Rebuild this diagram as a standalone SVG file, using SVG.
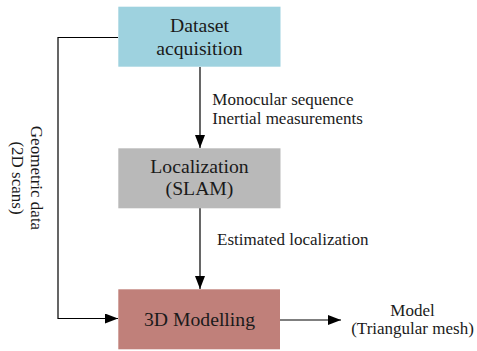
<svg xmlns="http://www.w3.org/2000/svg" width="477" height="351" viewBox="0 0 477 351">
<style>
.box-text{font-size:19.7px;fill:#1a1a1a;text-anchor:middle}
.lbl{font-size:17px;fill:#1a1a1a}
.conn{stroke:#000;stroke-width:1.2;fill:none}
</style>
<defs>
<marker id="ah" markerWidth="13" markerHeight="10" refX="13" refY="5" orient="auto" markerUnits="userSpaceOnUse">
<path d="M0,0 L13,5 L0,10 Z" fill="#000"/>
</marker>
</defs>
<rect width="477" height="351" fill="#fff"/>
<g font-family="Liberation Serif, Times New Roman, serif">
<g id="connectors">
<line class="conn" x1="200" y1="67" x2="200" y2="148" marker-end="url(#ah)"/>
<line class="conn" x1="200" y1="208" x2="200" y2="289" marker-end="url(#ah)"/>
<polyline class="conn" points="118,37.5 58,37.5 58,318.5 118,318.5" marker-end="url(#ah)"/>
<line class="conn" x1="280" y1="320" x2="341" y2="320" marker-end="url(#ah)"/>
<text class="lbl" x="212.3" y="104.5">Monocular sequence</text>
<text class="lbl" x="212.3" y="124">Inertial measurements</text>
<text class="lbl" x="217" y="245">Estimated localization</text>
<text class="lbl" text-anchor="middle" transform="translate(31,178) rotate(90)"><tspan x="0" y="0">Geometric data</tspan><tspan x="0" y="19">(2D scans)</tspan></text>
<text class="lbl" text-anchor="middle" x="412.5" y="316">Model</text>
<text class="lbl" text-anchor="middle" x="412.5" y="334">(Triangular mesh)</text>
</g>
<g id="dataset">
<rect x="118.3" y="6.7" width="162.2" height="60" fill="#9ed2df"/>
<text class="box-text" x="199.5" y="31.7">Dataset</text>
<text class="box-text" x="199.5" y="55">acquisition</text>
</g>
<g id="localization">
<rect x="118.3" y="148.3" width="162.2" height="60" fill="#b9b9b9"/>
<text class="box-text" x="199.5" y="173.3">Localization</text>
<text class="box-text" x="199.5" y="195">(SLAM)</text>
</g>
<g id="modelling">
<rect x="118.3" y="289.3" width="161.7" height="60" fill="#c0807a"/>
<text class="box-text" x="199.5" y="326">3D Modelling</text>
</g>
</g>
</svg>
